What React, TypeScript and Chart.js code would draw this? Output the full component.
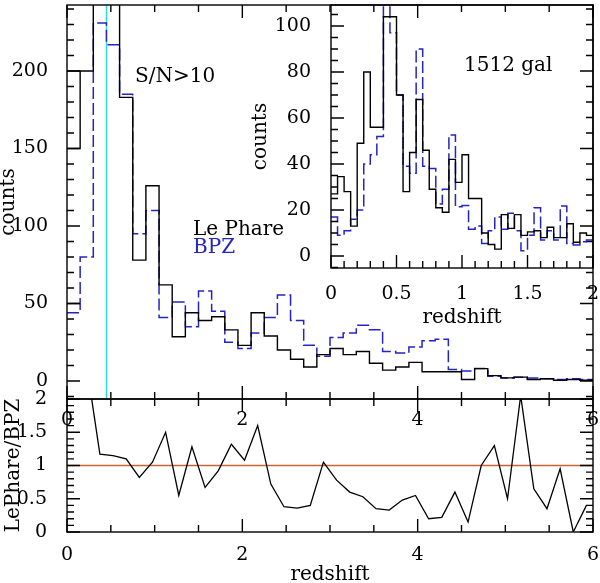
import React, { useEffect, useRef } from "react";
import { Chart, registerables } from "chart.js";

Chart.register(...registerables);

const FONT = "'DejaVu Serif', 'Liberation Serif', serif";

// ---------- main panel (S/N>10), bin width 0.15 ----------
const mainBinWidth = 0.15;
const lePhareMain = [150, 200, 260, 260, 183, 78, 126, 62, 28.6, 44, 39, 41.5, 33, 23, 44, 29, 20, 14, 9, 17, 21, 17, 19, 11.5, 7, 9, 12, 6, 6, 6, 1, 8, 3.5, 2, 2.5, 1, 1.5, 0.5, 1, 0.5];
const lePhareMainBin0Extra = [50, 200];
const bpzMain = [44, 80, 231, 217, 185, 95, 110, 41, 51, 35, 58, 45, 25, 21, 31, 41, 55.5, 39, 23, 16, 28, 31, 36, 33, 19, 18, 22, 26, 27, 7.5, 6.5, 8, 3, 2, 2.5, 2, 1.5, 1, 1.5, 1];
const cyanRedshift = 0.45;
const mainXTicks = [0, 2, 4, 6];
const mainYTicks = [0, 50, 100, 150, 200];

// ---------- inset (1512 gal), bin width 0.05 ----------
const insetBinWidth = 0.05;
const lePhareInset = [27, 34.5, 28, 13, 49, 80, 56, 56, 104, 104, 70, 28, 45, 68, 46, 29, 21, 19, 42, 32, 44, 25, 25, 10, 5, 3, 18, 12, 18, 9, 10.5, 11, 8, 12.5, 8, 8, 14, 6, 10, 9];
const bpzInset = [17, 9, 11, 16, 20, 40, 44, 52, 115, 97, 70, 39, 36, 90, 39, 38, 22.6, 29, 52.6, 21.4, 22, 11.6, 13, 5.5, 11, 17, 11.6, 18.6, 11, 2.3, 9, 21, 7, 11, 7, 21.7, 5.5, 4.8, 6.2, 7];
const insetXTicks = [0, 0.5, 1, 1.5, 2];
const insetYTicks = [0, 20, 40, 60, 80, 100];

// ---------- ratio panel ----------
const ratioLePhareBpz = [3.0, 2.5, 1.17, 1.15, 1.1, 0.82, 1.05, 1.5, 0.55, 1.28, 0.67, 0.92, 1.32, 1.08, 1.6, 0.72, 0.38, 0.36, 0.4, 1.05, 0.78, 0.6, 0.53, 0.35, 0.33, 0.48, 0.55, 0.2, 0.22, 0.6, 0.15, 1.0, 1.3, 0.5, 2.05, 0.65, 0.35, 0.95, 0.0, 0.4];
const ratioReference = 1;
const ratioXTicks = [0, 2, 4, 6];
const ratioYTicks = [0, 0.5, 1, 1.5, 2];

const BLUE = "#2424c4";
const BLACK = "#000000";

function stepPoints(counts: number[], width: number) {
  const pts: { x: number; y: number }[] = [];
  counts.forEach((c, i) => {
    pts.push({ x: i * width, y: c });
    pts.push({ x: (i + 1) * width, y: c });
  });
  return pts;
}

function levelSegments(levels: number[], width: number) {
  const pts: { x: number; y: number | null }[] = [];
  levels.forEach((l) => {
    pts.push({ x: 0, y: l });
    pts.push({ x: width, y: l });
    pts.push({ x: width, y: null });
  });
  return pts;
}

type Side = "top" | "bottom" | "left" | "right";
function framePlugin(xMinor: number, xMajor: number, yMinor: number, yMajor: number, sides: Side[]) {
  return {
    id: "frameTicks",
    afterDatasetsDraw(chart: any) {
      const { ctx, chartArea: a } = chart;
      const xs = chart.scales.x;
      const ys = chart.scales.y;
      const isMajor = (v: number, m: number) => Math.abs(v / m - Math.round(v / m)) < 1e-6;
      ctx.save();
      ctx.strokeStyle = "#000";
      ctx.lineWidth = 1.4;
      ctx.strokeRect(a.left, a.top, a.right - a.left, a.bottom - a.top);
      ctx.beginPath();
      const kx0 = Math.ceil(xs.min / xMinor - 1e-9);
      const kx1 = Math.floor(xs.max / xMinor + 1e-9);
      for (let k = kx0; k <= kx1; k++) {
        const v = k * xMinor;
        const px = xs.getPixelForValue(v);
        const len = isMajor(v, xMajor) ? 13 : 7;
        if (sides.includes("bottom")) { ctx.moveTo(px, a.bottom); ctx.lineTo(px, a.bottom - len); }
        if (sides.includes("top")) { ctx.moveTo(px, a.top); ctx.lineTo(px, a.top + len); }
      }
      const ky0 = Math.ceil(ys.min / yMinor - 1e-9);
      const ky1 = Math.floor(ys.max / yMinor + 1e-9);
      for (let k = ky0; k <= ky1; k++) {
        const v = k * yMinor;
        const py = ys.getPixelForValue(v);
        const len = isMajor(v, yMajor) ? 13 : 7;
        if (sides.includes("left")) { ctx.moveTo(a.left, py); ctx.lineTo(a.left + len, py); }
        if (sides.includes("right")) { ctx.moveTo(a.right, py); ctx.lineTo(a.right - len, py); }
      }
      ctx.stroke();
      ctx.restore();
    },
  };
}

function textPlugin(items: { text: string; x: number; y: number; color: string }[]) {
  return {
    id: "annotations",
    afterDraw(chart: any) {
      const ctx = chart.ctx;
      ctx.save();
      ctx.font = `20px ${FONT}`;
      ctx.textBaseline = "alphabetic";
      ctx.textAlign = "left";
      items.forEach((it) => {
        ctx.fillStyle = it.color;
        ctx.fillText(it.text, it.x, it.y);
      });
      ctx.restore();
    },
  };
}

const tickFont = { family: FONT, size: 19 };
const titleFont = { family: FONT, size: 20 };

function xAxis(min: number, max: number, ticks: number[], height: number, padding: number, title?: { text: string; pb: number }) {
  return {
    type: "linear" as const,
    position: "bottom" as const,
    min,
    max,
    grid: { display: false },
    border: { display: false },
    ticks: { font: tickFont, color: "#000", padding, maxRotation: 0, autoSkip: false, callback: (v: any) => String(v) },
    title: title
      ? { display: true, text: title.text, font: titleFont, color: "#000", padding: { top: 0, bottom: title.pb } }
      : { display: false },
    afterBuildTicks: (s: any) => { s.ticks = ticks.map((v) => ({ value: v })); },
    afterFit: (s: any) => { s.height = height; s.paddingLeft = 0; s.paddingRight = 0; },
  };
}

function yAxis(min: number, max: number, ticks: number[], width: number, padding: number, title: { text: string; pt: number }) {
  return {
    type: "linear" as const,
    position: "left" as const,
    min,
    max,
    grid: { display: false },
    border: { display: false },
    ticks: { font: tickFont, color: "#000", padding, autoSkip: false, callback: (v: any) => String(v) },
    title: { display: true, text: title.text, font: titleFont, color: "#000", padding: { top: title.pt, bottom: 0 } },
    afterBuildTicks: (s: any) => { s.ticks = ticks.map((v) => ({ value: v })); },
    afterFit: (s: any) => { s.width = width; s.paddingTop = 0; s.paddingBottom = 0; },
  };
}

const baseOptions = {
  animation: false as const,
  responsive: false,
  plugins: { legend: { display: false }, tooltip: { enabled: false } },
  elements: { point: { radius: 0 }, line: { tension: 0 } },
  events: [] as any[],
};

export default function App() {
  const mainRef = useRef<HTMLCanvasElement>(null);
  const ratioRef = useRef<HTMLCanvasElement>(null);
  const insetRef = useRef<HTMLCanvasElement>(null);

  useEffect(() => {
    const mainChart = new Chart(mainRef.current!, {
      type: "line",
      data: {
        datasets: [
          { data: stepPoints(lePhareMain, mainBinWidth), borderColor: BLACK, borderWidth: 1.4, fill: false },
          { data: levelSegments(lePhareMainBin0Extra, mainBinWidth) as any, borderColor: BLACK, borderWidth: 1.4, fill: false, spanGaps: false },
          { data: stepPoints(bpzMain, mainBinWidth), borderColor: BLUE, borderWidth: 1.5, borderDash: [12, 4], fill: false },
          { data: [{ x: cyanRedshift, y: -100 }, { x: cyanRedshift, y: 1000 }], borderColor: "#22dddd", borderWidth: 1.3, fill: false },
        ],
      },
      options: {
        ...baseOptions,
        layout: { padding: { left: 0, top: 5, right: 7, bottom: 144 } },
        scales: {
          x: xAxis(0, 6, mainXTicks, 40, 2),
          y: yAxis(-11.6, 242.6, mainYTicks, 67, 11, { text: "counts", pt: -3 }),
        },
      } as any,
      plugins: [
        framePlugin(0.5, 2, 10, 50, ["top", "bottom", "left", "right"]),
        textPlugin([
          { text: "S/N>10", x: 135, y: 82, color: "#000" },
          { text: "Le Phare", x: 193, y: 235, color: "#000" },
          { text: "BPZ", x: 193, y: 253, color: BLUE },
        ]),
      ],
    });

    const ratioChart = new Chart(ratioRef.current!, {
      type: "line",
      data: {
        datasets: [
          { data: ratioLePhareBpz.map((r, i) => ({ x: (i + 0.5) * mainBinWidth, y: r })), borderColor: BLACK, borderWidth: 1.3, fill: false },
          { data: [{ x: 0, y: ratioReference }, { x: 6, y: ratioReference }], borderColor: "#c8642d", borderWidth: 1.4, fill: false },
        ],
      },
      options: {
        ...baseOptions,
        layout: { padding: { left: 0, top: 399, right: 7, bottom: 0 } },
        scales: {
          x: xAxis(0, 6, ratioXTicks, 68, 4, { text: "redshift", pb: 13 }),
          y: yAxis(0, 2, ratioYTicks, 67, 12, { text: "LePhare/BPZ", pt: 2 }),
        },
      } as any,
      plugins: [framePlugin(0.5, 2, 0.1, 0.5, ["top", "bottom", "left", "right"])],
    });

    const insetChart = new Chart(insetRef.current!, {
      type: "line",
      data: {
        datasets: [
          { data: stepPoints(lePhareInset, insetBinWidth), borderColor: BLACK, borderWidth: 1.4, fill: false },
          { data: stepPoints(bpzInset, insetBinWidth), borderColor: BLUE, borderWidth: 1.5, borderDash: [12, 4], fill: false },
        ],
      },
      options: {
        ...baseOptions,
        layout: { padding: { left: 240, top: 5, right: 7, bottom: 245 } },
        scales: {
          x: xAxis(0, 2, insetXTicks, 70, 6.5, { text: "redshift", pb: 8 }),
          y: yAxis(-5.2, 109.1, insetYTicks, 91, 12, { text: "counts", pt: 9 }),
        },
      } as any,
      plugins: [
        framePlugin(0.1, 0.5, 5, 20, ["bottom", "left"]),
        textPlugin([{ text: "1512 gal", x: 464, y: 71, color: "#000" }]),
      ],
    });

    return () => {
      mainChart.destroy();
      ratioChart.destroy();
      insetChart.destroy();
    };
  }, []);

  const canvasStyle: React.CSSProperties = { position: "absolute", left: 0, top: 0 };
  return (
    <div style={{ position: "fixed", left: 0, top: 0, width: 600, height: 583, overflow: "hidden", background: "#fff" }}>
      <canvas ref={mainRef} width={600} height={583} style={canvasStyle} />
      <canvas ref={ratioRef} width={600} height={600} style={canvasStyle} />
      <canvas ref={insetRef} width={600} height={583} style={canvasStyle} />
    </div>
  );
}
